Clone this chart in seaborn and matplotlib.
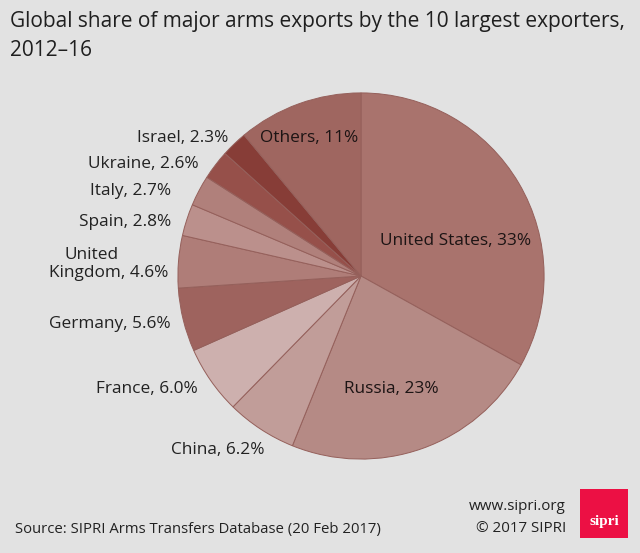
import matplotlib
matplotlib.use("Agg")
import matplotlib.pyplot as plt
from matplotlib.patches import Rectangle
import seaborn as sns

categories = ["United States", "Russia", "China", "France", "Germany", "United\nKingdom",
              "Spain", "Italy", "Ukraine", "Israel", "Others"]
shares = [33, 23, 6.2, 6.0, 5.6, 4.6, 2.8, 2.7, 2.6, 2.3, 11]
share_labels = ["33%", "23%", "6.2%", "6.0%", "5.6%", "4.6%", "2.8%", "2.7%", "2.6%", "2.3%", "11%"]
slice_colors = ["#A9736D", "#B58A85", "#C19D99", "#CDB0AE", "#9E635E", "#AF7D78",
                "#BB908C", "#B0807B", "#96504A", "#873D37", "#9F6660"]
title = "Global share of major arms exports by the 10 largest exporters,\n2012\u201316"
source = "Source: SIPRI Arms Transfers Database (20 Feb 2017)"

BG = "#E2E2E2"
sns.set_theme(style="white")
plt.rcParams["font.family"] = ["Open Sans", "DejaVu Sans"]
W, H = 640, 553
fig = plt.figure(figsize=(W / 100, H / 100), dpi=100, facecolor=BG)

cx, cy, r = 361, 276, 184
ax = fig.add_axes([(cx - r) / W, 1 - (cy + r) / H, 2 * r / W, 2 * r / H])
ax.set_facecolor(BG)
ax.pie(shares, colors=sns.color_palette(slice_colors), startangle=90, counterclock=False, radius=0.995,
       wedgeprops=dict(edgecolor="#95605B", linewidth=0.7))
ax.set_xlim(-1, 1)
ax.set_ylim(-1, 1)
ax.set_aspect("equal")
ax.patch.set_visible(False)

def px(x, y, s, **kw):
    fig.text(x / W, 1 - y / H, s, color=kw.pop("color", "#222222"), **kw)

FS = 12.4
label_pos = [(456, 241, "center"), (391, 389, "center"), (218, 450, "center"), (198, 389, "right"),
             (171, 324, "right"), (168, 273, "right"), (171, 222, "right"), (171, 191, "right"),
             (199, 164, "right"), (228, 138, "right"), (309, 138, "center")]
for cat, lab, (x, y, ha) in zip(categories, share_labels, label_pos):
    if "\n" in cat:
        first, second = cat.split("\n")
        px(65, 255, first, ha="left", va="center", fontsize=FS)
        px(x, y, f"{second}, {lab}", ha=ha, va="center", fontsize=FS)
    else:
        px(x, y, f"{cat}, {lab}", ha=ha, va="center", fontsize=FS, color="#1c1414" if x > 240 else "#222222")

px(10, 21, title.split("\n")[0], ha="left", va="center", fontsize=15.0, color="#1f1f1f")
px(10, 51, title.split("\n")[1], ha="left", va="center", fontsize=15.0, color="#1f1f1f")
px(15, 529, source, ha="left", va="center", fontsize=10.7)
px(566, 506, "www.sipri.org", ha="right", va="center", fontsize=10.9)
px(566, 529, "\u00a9 2017 SIPRI", ha="right", va="center", fontsize=10.9)

fig.add_artist(Rectangle((580 / W, 1 - 538 / H), 48 / W, 49 / H, transform=fig.transFigure,
                         facecolor="#EC1044", edgecolor="none"))
px(604, 521, "sipri", ha="center", va="center", fontsize=11, color="white", fontweight="bold", family="Liberation Serif")

fig.savefig("out.png", dpi=100, facecolor=BG)
